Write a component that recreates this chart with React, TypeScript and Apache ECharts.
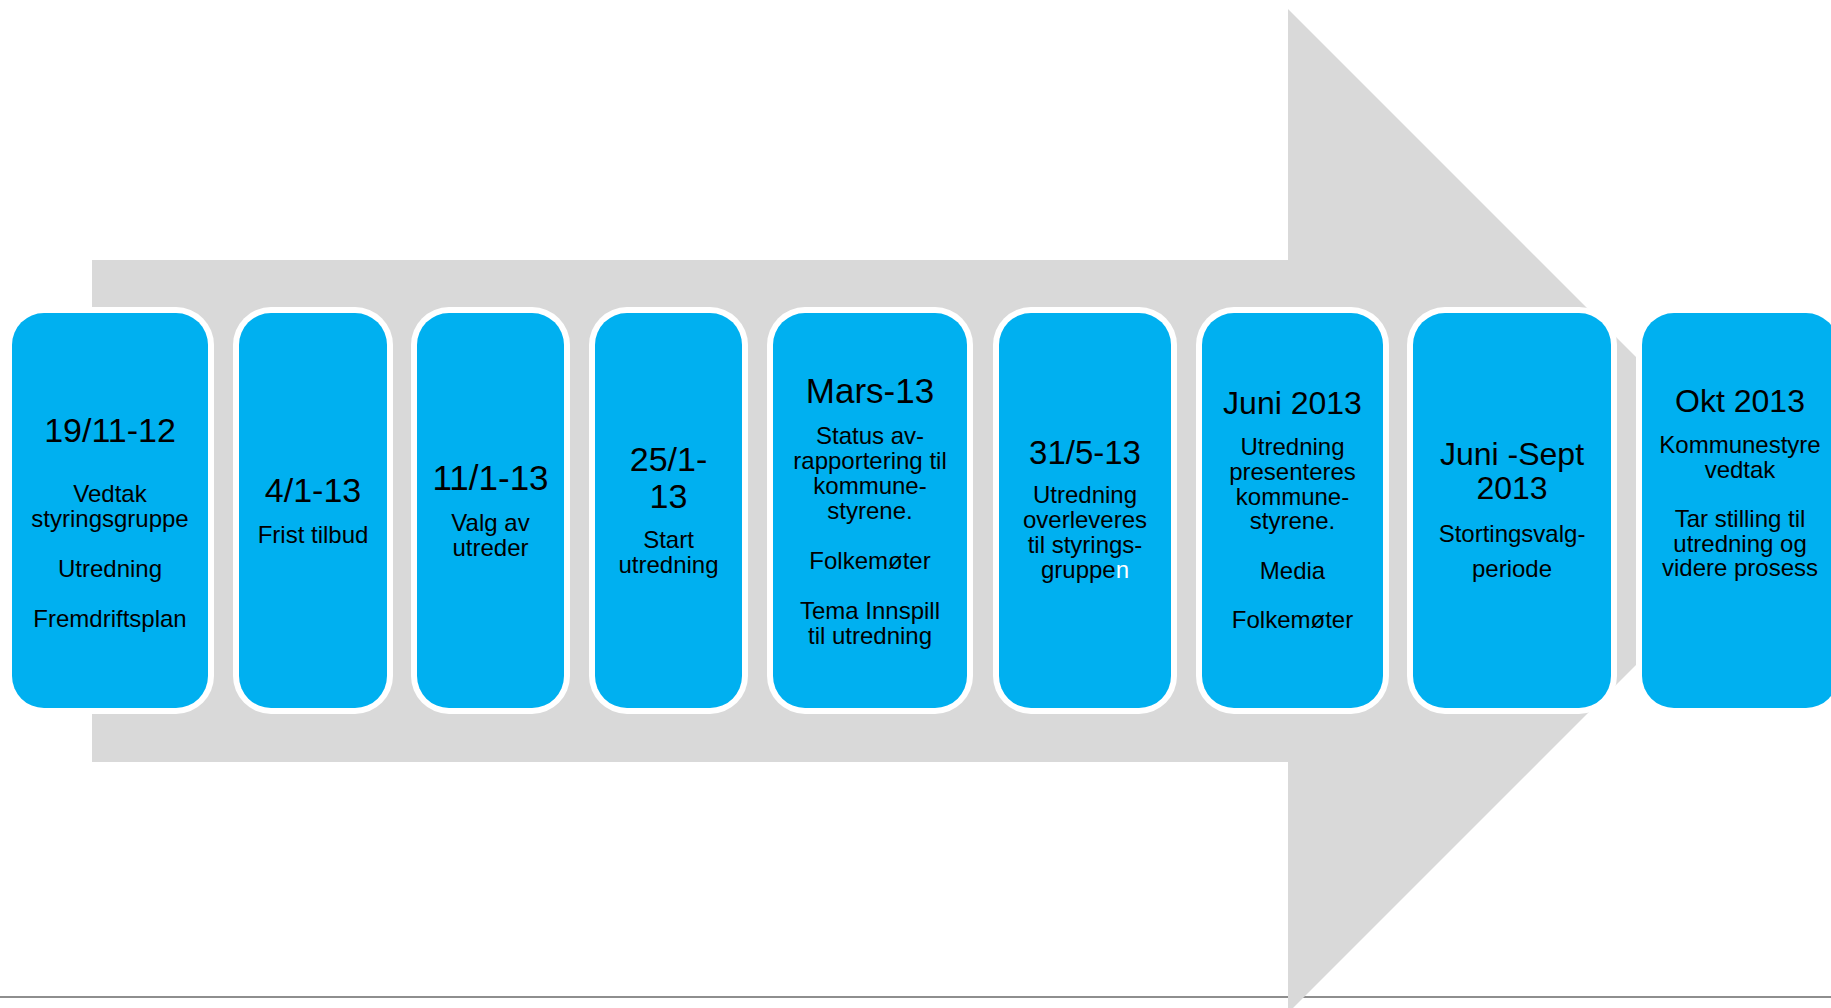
import React, { useEffect, useRef } from "react";
import * as echarts from "echarts";

// ---- content ----
const titles: string[][] = [
  ["19/11-12"],
  ["4/1-13"],
  ["11/1-13"],
  ["25/1-", "13"],
  ["Mars-13"],
  ["31/5-13"],
  ["Juni 2013"],
  ["Juni -Sept", "2013"],
  ["Okt 2013"],
];

const bodies: string[][] = [
  ["Vedtak", "styringsgruppe", "", "Utredning", "", "Fremdriftsplan"],
  ["Frist tilbud"],
  ["Valg av", "utreder"],
  ["Start", "utredning"],
  ["Status av-", "rapportering til", "kommune-", "styrene.", "", "Folkemøter", "", "Tema Innspill", "til utredning"],
  ["Utredning", "overleveres", "til styrings-", "gruppen"],
  ["Utredning", "presenteres", "kommune-", "styrene.", "", "Media", "", "Folkemøter"],
  ["Stortingsvalg-", "periode"],
  ["Kommunestyre", "vedtak", "", "Tar stilling til", "utredning og", "videre prosess"],
];

// ---- layout (pixels) ----
const boxLeft = [12, 239, 417, 595, 773, 999, 1202, 1413, 1642];
const boxRight = [208, 387, 564, 742, 967, 1171, 1383, 1611, 1838];
const boxTop = 313;
const boxBottom = 708;
const titleBaseline = [442, 502, 490, 471, 403, 464, 414, 465, 412];
const bodyBaseline = [502, 543, 531, 548, 444, 503, 455, 542, 453];
const titleLineH = [35, 35, 35, 37, 35, 35, 35, 34, 35];
const bodyLineH = [25, 25, 25, 25, 25, 25, 24.7, 35, 24.6];
const titleFontSize = [34, 34, 35, 34, 35, 33, 32, 32, 32];
// the final letter of this line is white in the original
const whiteTail = { box: 5, line: 3, chars: 1 };

const FONT = '"Liberation Sans", Arial, Helvetica, sans-serif';
const BLUE = "#00B0F0";
const GRAY = "#D9D9D9";
const BODY_FS = 24;
const CENTRAL = 0.3465;

function textEl(x: number, centerY: number, fs: number, text: string, extra?: any) {
  return {
    type: "text",
    z: 10,
    x,
    y: centerY,
    silent: true,
    style: {
      text,
      fill: "#000",
      fontSize: fs,
      fontFamily: FONT,
      align: "center",
      verticalAlign: "middle",
      textAlign: "center",
      textVerticalAlign: "middle",
      ...(extra || {}),
    },
  };
}

export default function App() {
  const ref = useRef<HTMLDivElement>(null);
  useEffect(() => {
    if (!ref.current) return;
    const chart = echarts.init(ref.current, null, { renderer: "svg" });
    const els: any[] = [];
    // bottom rule
    els.push({
      type: "line",
      z: 1,
      shape: { x1: 0, y1: 997, x2: 1831, y2: 997 },
      style: { stroke: "#8e8e8e", lineWidth: 2 },
    });
    // big arrow
    els.push({
      type: "polygon",
      z: 2,
      shape: {
        points: [
          [92, 260],
          [1288, 260],
          [1288, 9],
          [1790, 511],
          [1288, 1013],
          [1288, 762],
          [92, 762],
        ],
      },
      style: { fill: GRAY },
    });
    titles.forEach((tl, i) => {
      const x0 = boxLeft[i];
      const x1 = boxRight[i];
      const cx = (x0 + x1) / 2;
      const b = 6;
      els.push({
        type: "rect",
        z: 4,
        shape: { x: x0 - b, y: boxTop - b, width: x1 - x0 + 2 * b, height: boxBottom - boxTop + 2 * b, r: 32 + b },
        style: { fill: "#ffffff" },
      });
      els.push({
        type: "rect",
        z: 5,
        shape: { x: x0, y: boxTop, width: x1 - x0, height: boxBottom - boxTop, r: 32 },
        style: { fill: BLUE },
      });
      // title block (single text element, possibly multi-line)
      const fs = titleFontSize[i];
      const lh = titleLineH[i];
      const midBaseline = titleBaseline[i] + ((tl.length - 1) * lh) / 2;
      els.push(textEl(cx, midBaseline - CENTRAL * fs, fs, tl.join("\n"), { lineHeight: lh }));
      // body lines
      bodies[i].forEach((t, k) => {
        if (!t) return;
        const y = bodyBaseline[i] + k * bodyLineH[i] - CENTRAL * BODY_FS;
        if (i === whiteTail.box && k === whiteTail.line) {
          const head = t.slice(0, t.length - whiteTail.chars);
          const tail = t.slice(t.length - whiteTail.chars);
          els.push(
            textEl(cx, y, BODY_FS, `{a|${head}}{w|${tail}}`, {
              rich: {
                a: { fill: "#000", fontSize: BODY_FS, fontFamily: FONT },
                w: { fill: "#ffffff", fontSize: BODY_FS, fontFamily: FONT },
              },
            })
          );
        } else {
          els.push(textEl(cx, y, BODY_FS, t));
        }
      });
    });
    chart.setOption({
      animation: false,
      backgroundColor: "#ffffff",
      graphic: { elements: els },
    });
    return () => chart.dispose();
  }, []);
  return (
    <div
      ref={ref}
      style={{ position: "fixed", left: 0, top: 0, width: 1831, height: 1008, background: "#fff" }}
    />
  );
}
